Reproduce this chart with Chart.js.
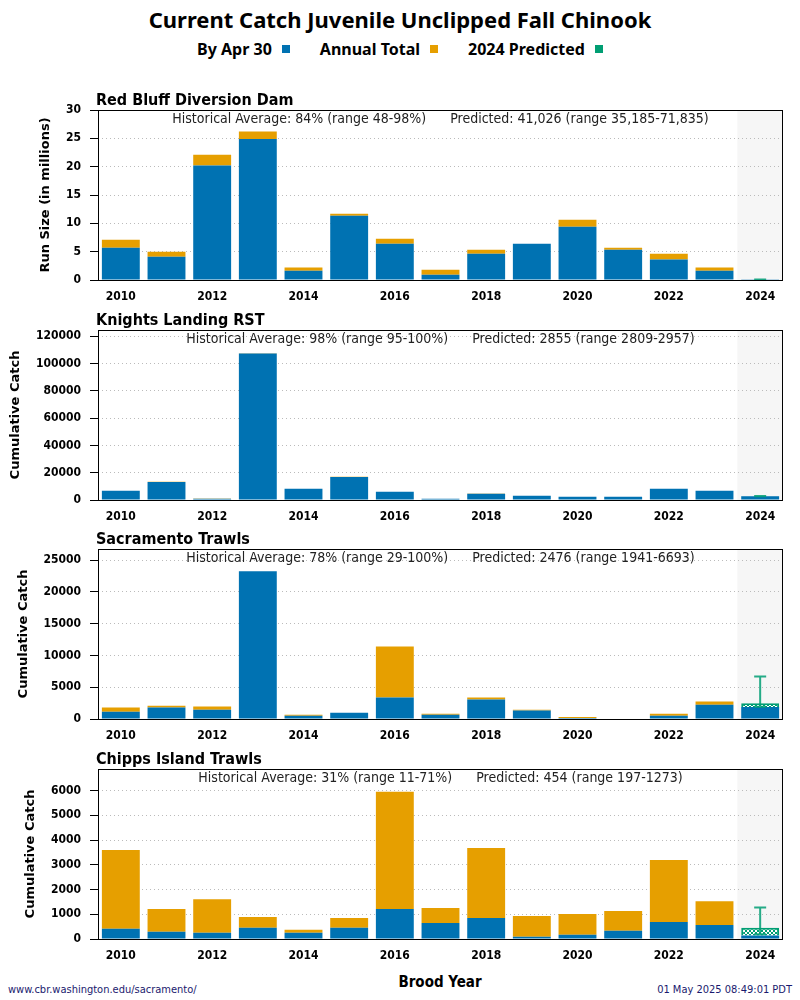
<!DOCTYPE html>
<html>
<head>
<meta charset="utf-8">
<script src="https://cdn.jsdelivr.net/npm/chart.js@4.4.1/dist/chart.umd.min.js"></script>
<style>
  html, body { margin: 0; padding: 0; background: #fff; }
  #page { position: relative; width: 800px; height: 1000px; overflow: hidden;
          font-family: 'DejaVu Sans Condensed', 'DejaVu Sans', sans-serif; }
  #title { position: absolute; top: 4px; left: 0; width: 800px; text-align: center;
           font: bold 22px 'Noto Sans', sans-serif; color: #000; }
  #legend { position: absolute; top: 38px; left: 0; width: 800px; display: flex;
            justify-content: center; align-items: center;
            font: bold 16px 'Noto Sans', sans-serif; color: #000; }
  #legend i { display: inline-block; width: 8px; height: 8px; margin: 0 30px 0 10px; }
  #legend i:last-child { margin-right: 0; }
  .panel { position: absolute; left: 0; width: 800px; height: 220px; }
  #xtitle { position: absolute; top: 973px; left: 340px; width: 200px; text-align: center;
            font: bold 15px 'DejaVu Sans Condensed', 'DejaVu Sans', sans-serif; }
  .foot { position: absolute; top: 983px; font-size: 11px; color: #1a1a6e; }
</style>
</head>
<body>
<div id="page">
  <div id="title">Current Catch Juvenile Unclipped Fall Chinook</div>
  <div id="legend">
    <span>By Apr 30</span><i style="background:#0072B2"></i>
    <span>Annual Total</span><i style="background:#E69F00"></i>
    <span>2024 Predicted</span><i style="background:#009E73"></i>
  </div>
  <canvas id="c0" class="panel" width="800" height="220" style="top:90px"></canvas>
  <canvas id="c1" class="panel" width="800" height="220" style="top:310px"></canvas>
  <canvas id="c2" class="panel" width="800" height="220" style="top:529px"></canvas>
  <canvas id="c3" class="panel" width="800" height="220" style="top:749px"></canvas>
  <div id="xtitle">Brood Year</div>
  <div class="foot" style="left:8px">www.cbr.washington.edu/sacramento/</div>
  <div class="foot" style="right:8px">01 May 2025 08:49:01 PDT</div>
</div>

<script>
/* ─── Data ─── */
const YEARS = ['2010','2011','2012','2013','2014','2015','2016','2017','2018','2019','2020','2021','2022','2023','2024'];

// Red Bluff Diversion Dam, millions
const RBDD_APR30 = [5.7, 4.1, 20.2, 24.9, 1.65, 11.35, 6.4, 0.94, 4.65, 6.4, 9.4, 5.35, 3.6, 1.65, 0.03];
const RBDD_TOTAL = [7.1, 5.0, 22.1, 26.2, 2.2, 11.7, 7.3, 1.8, 5.35, 6.4, 10.65, 5.7, 4.65, 2.2, null];
const RBDD_PRED  = [0.041026, 0.035185, 0.071835];   // predicted, low, high

// Knights Landing RST
const KL_APR30 = [6750, 13250, 1000, 107200, 8200, 16900, 6000, 900, 4600, 3100, 2400, 2400, 8200, 6750, 2700];
const KL_TOTAL = [6850, 13400, 1050, 107500, 8300, 17000, 6100, 950, 4700, 3150, 2450, 2450, 8300, 6850, null];
const KL_PRED  = [2855, 2809, 2957];

// Sacramento Trawls
const ST_APR30 = [1160, 1790, 1470, 23260, 530, 1000, 3370, 680, 3050, 1320, 160, 0, 530, 2260, 1900];
const ST_TOTAL = [1790, 2100, 1950, 23260, 680, 1000, 11420, 840, 3370, 1470, 320, 0, 840, 2740, null];
const ST_PRED  = [2476, 1941, 6693];

// Chipps Island Trawls
const CI_APR30 = [410, 290, 250, 450, 250, 450, 1210, 650, 850, 90, 170, 330, 690, 570, 145];
const CI_TOTAL = [3600, 1210, 1610, 890, 370, 850, 5950, 1250, 3680, 930, 1010, 1130, 3190, 1530, null];
const CI_PRED  = [454, 197, 1273];

const BLUE = '#0072B2', ORANGE = '#E69F00', GREEN = '#009E73';
const FONT = "'DejaVu Sans Condensed', 'DejaVu Sans', sans-serif";

const PANELS = [
  { name: 'Red Bluff Diversion Dam', yTitle: 'Run Size (in millions)',
    note: 'Historical Average: 84% (range 48-98%)      Predicted: 41,026 (range 35,185-71,835)',
    apr30: RBDD_APR30, total: RBDD_TOTAL, pred: RBDD_PRED, yMax: 30, yStep: 5 },
  { name: 'Knights Landing RST', yTitle: 'Cumulative Catch',
    note: 'Historical Average: 98% (range 95-100%)      Predicted: 2855 (range 2809-2957)',
    apr30: KL_APR30, total: KL_TOTAL, pred: KL_PRED, yMax: 124500, yStep: 20000 },
  { name: 'Sacramento Trawls', yTitle: 'Cumulative Catch',
    note: 'Historical Average: 78% (range 29-100%)      Predicted: 2476 (range 1941-6693)',
    apr30: ST_APR30, total: ST_TOTAL, pred: ST_PRED, yMax: 26750, yStep: 5000 },
  { name: 'Chipps Island Trawls', yTitle: 'Cumulative Catch',
    note: 'Historical Average: 31% (range 11-71%)      Predicted: 454 (range 197-1273)',
    apr30: CI_APR30, total: CI_TOTAL, pred: CI_PRED, yMax: 6875, yStep: 1000 },
];

/* ─── Green cross-hatch for the predicted bar ─── */
function hatch() {
  const c = document.createElement('canvas');
  c.width = 4; c.height = 4;
  const g = c.getContext('2d');
  g.fillStyle = '#fff'; g.fillRect(0, 0, 4, 4);
  g.strokeStyle = GREEN; g.lineWidth = 1;
  g.beginPath();
  g.moveTo(0, 0); g.lineTo(4, 4);
  g.moveTo(4, 0); g.lineTo(0, 4);
  g.stroke();
  return g.createPattern(c, 'repeat');
}

/* ─── Band, frame, titles, error bar ─── */
const panelDeco = {
  id: 'panelDeco',
  beforeDraw(chart) {
    const { ctx, chartArea: a, scales: { x } } = chart;
    const half = (x.getPixelForValue(1) - x.getPixelForValue(0)) / 2;
    const left = x.getPixelForValue(YEARS.length - 1) - half;
    ctx.save();
    ctx.fillStyle = '#f6f6f6';
    ctx.fillRect(left, a.top, a.right - left, a.bottom - a.top);
    ctx.restore();
  },
  afterDatasetsDraw(chart, args, opts) {
    const { ctx, scales: { x, y } } = chart;
    const px = x.getPixelForValue(YEARS.length - 1);
    const lo = y.getPixelForValue(opts.pred[1]);
    const hi = y.getPixelForValue(opts.pred[2]);
    ctx.save();
    ctx.strokeStyle = GREEN;
    ctx.globalAlpha = 0.85;
    ctx.lineWidth = 2;
    ctx.beginPath();
    ctx.moveTo(px, lo); ctx.lineTo(px, hi);
    ctx.moveTo(px - 6, lo); ctx.lineTo(px + 6, lo);
    ctx.moveTo(px - 6, hi); ctx.lineTo(px + 6, hi);
    ctx.stroke();
    ctx.restore();
  },
  afterDraw(chart, args, opts) {
    const { ctx, chartArea: a, scales: { y } } = chart;
    ctx.save();
    ctx.strokeStyle = '#000';
    ctx.lineWidth = 1;
    ctx.strokeRect(a.left + 0.5, a.top + 0.5, a.right - a.left - 1, a.bottom - a.top);

    ctx.fillStyle = '#000';
    ctx.textBaseline = 'middle';
    ctx.font = 'bold 16px ' + FONT;
    ctx.textAlign = 'left';
    ctx.fillText(opts.name, a.left - 2, a.top - 9);

    ctx.font = '14px ' + FONT;
    ctx.textAlign = 'center';
    ctx.fillStyle = '#222';
    ctx.fillText(opts.note, (a.left + a.right) / 2, a.top + 9);

    // y title sits just left of the widest tick label
    ctx.font = 'bold 12px ' + FONT;
    const w = Math.max(...y.ticks.map(t => ctx.measureText(String(t.label)).width));
    const tx = a.left - 17 - w - 20;
    ctx.translate(tx, (a.top + a.bottom) / 2);
    ctx.rotate(-Math.PI / 2);
    ctx.font = "bold 13px 'DejaVu Sans', sans-serif";
    ctx.fillStyle = '#000';
    ctx.fillText(opts.yTitle, 0, 0);
    ctx.restore();
  }
};

function buildPanel(p, i) {
  const last = YEARS.length - 1;
  const extra = p.total.map((t, k) => t == null ? null : +(t - p.apr30[k]).toFixed(4));
  const predSeg = YEARS.map((_, k) => k === last ? +(p.pred[0] - p.apr30[last]).toFixed(4) : null);

  new Chart(document.getElementById('c' + i), {
    type: 'bar',
    data: {
      labels: YEARS,
      datasets: [
        { label: 'By Apr 30', data: p.apr30, backgroundColor: BLUE },
        { label: 'Annual Total', data: extra, backgroundColor: ORANGE },
        { label: '2024 Predicted', data: predSeg, backgroundColor: hatch(),
          borderColor: GREEN, borderWidth: 2 },
      ]
    },
    options: {
      responsive: false,
      animation: false,
      devicePixelRatio: 1,
      layout: { padding: { top: 20, right: 17, left: 0, bottom: 0 } },
      datasets: { bar: { categoryPercentage: 1, barPercentage: 0.83 } },
      plugins: {
        legend: { display: false },
        tooltip: { enabled: false },
        panelDeco: p,
      },
      scales: {
        x: {
          stacked: true,
          grid: { display: false, drawTicks: false },
          border: { display: false },
          ticks: {
            autoSkip: false, maxRotation: 0, padding: 10, color: '#000',
            font: { family: FONT, size: 12, weight: 'bold' },
            callback: (v, k) => k % 2 === 0 ? YEARS[k] : ''
          },
          afterFit: s => { s.height = 30; }
        },
        y: {
          stacked: true,
          min: 0, max: p.yMax,
          grid: { color: '#bbb', lineWidth: 1, tickColor: '#000', tickLength: 8 },
          border: { display: false, dash: [1, 3] },
          ticks: {
            padding: 9, color: '#000',
            font: { family: FONT, size: 12, weight: 'bold' },
            callback: v => String(v)
          },
          afterBuildTicks: s => {
            const t = [];
            for (let v = 0; v <= p.yMax; v += p.yStep) t.push({ value: v });
            s.ticks = t;
          },
          afterFit: s => { s.width = 98; }
        }
      }
    },
    plugins: [panelDeco]
  });
}

PANELS.forEach(buildPanel);
</script>
</body>
</html>
